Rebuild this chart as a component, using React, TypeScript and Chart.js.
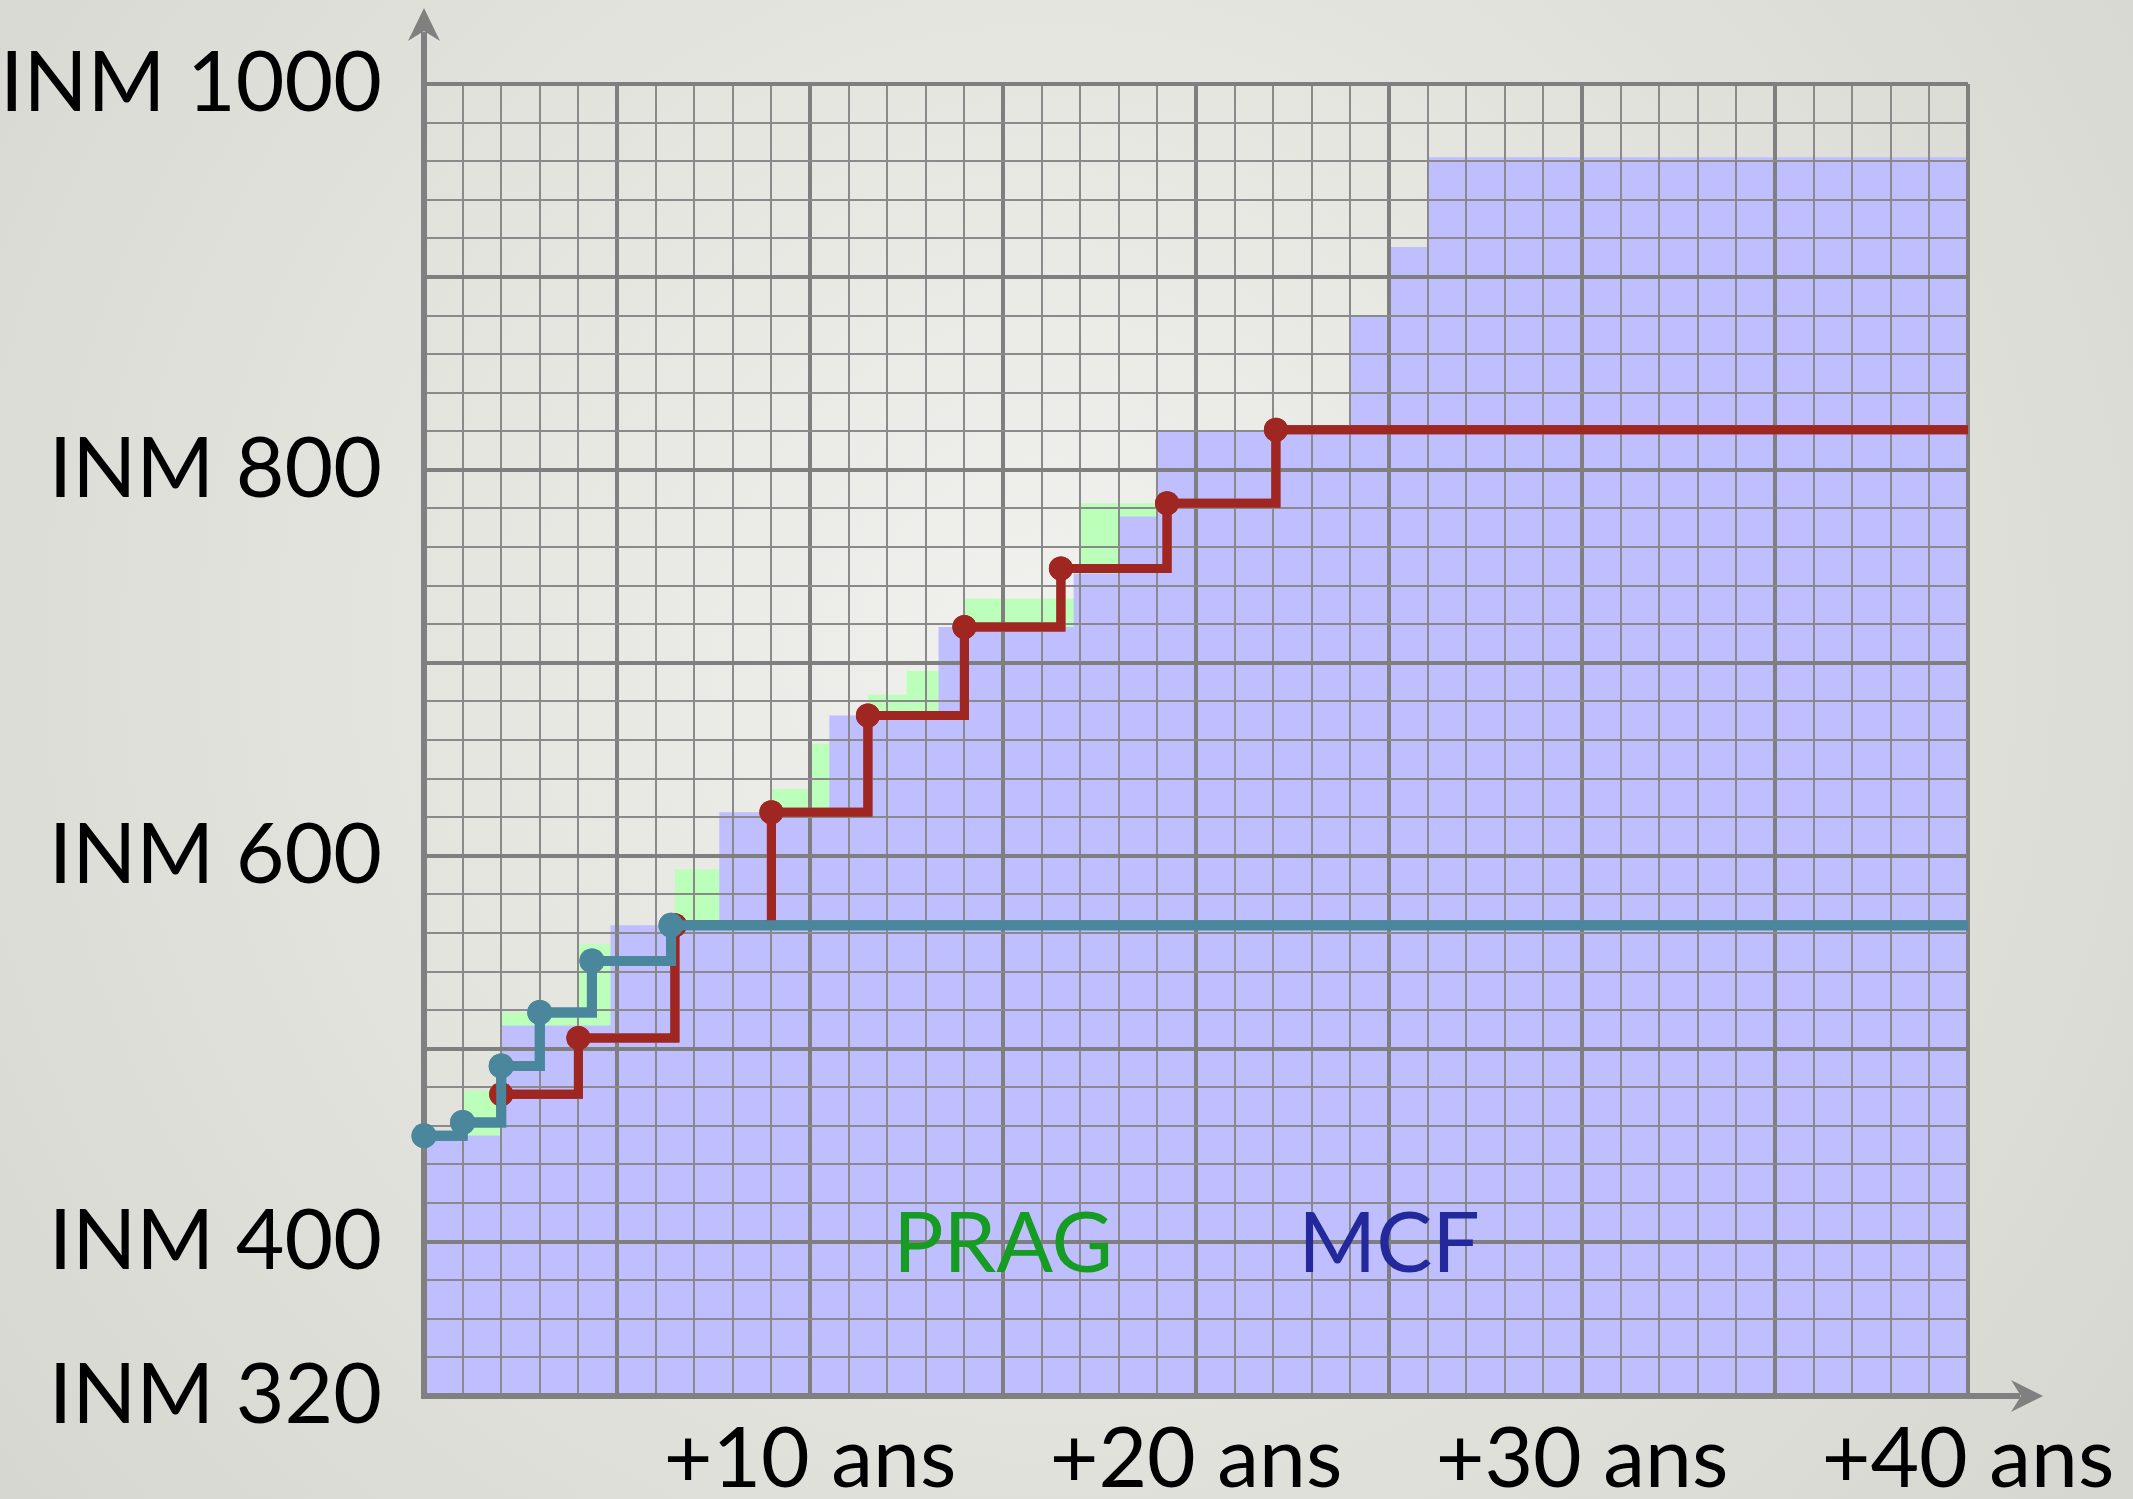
import React, { useEffect, useRef } from 'react';
import { Chart, registerables } from 'chart.js';

Chart.register(...registerables);

const W = 2133;
const H = 1499;

// MCF (blue area) step levels
const mcfX = [0, 2, 4.83, 7.65, 10.5, 13.33, 16.83, 18, 19, 24, 25, 26, 40];
const mcfY = [455, 512, 564, 622.5, 672.7, 718.6, 746.3, 775.8, 820.4, 880, 915.5, 962, 962];

// PRAG (green area) step levels
const pragX = [0, 1, 2, 4, 6.5, 9, 10, 11.5, 12.5, 14, 17, 19];
const pragY = [455, 478.2, 518.8, 554.2, 593, 634.6, 658, 683.6, 695.8, 733.3, 782.7, 782.7];

// red career line
const redX = [2, 4, 6.5, 9, 11.5, 14, 16.5, 19.25, 22.07, 40];
const redY = [476.4, 505.5, 564, 622.5, 672.7, 718.6, 748.9, 782.7, 820.8, 820.8];

// teal career line
const tealX = [0, 1, 2, 3, 4.35, 6.4, 40];
const tealY = [454.9, 461.8, 491.1, 518.8, 545.5, 564, 564];

// axis ticks
const yLabeled = [320, 400, 600, 800, 1000];
const xLabeled = [10, 20, 30, 40];

// annotations
const annText = ['PRAG', 'MCF'];
const annX = [15, 25];
const annY = [400, 400];
const annColor = ['#169c22', '#23289b'];

const FONT = 'Lato, "Open Sans", "DejaVu Sans", sans-serif';
const FS = 84;

const toPts = (xs: number[], ys: number[]) => xs.map((x, i) => ({ x, y: ys[i] }));

export default function App() {
  const ref = useRef<HTMLCanvasElement | null>(null);

  useEffect(() => {
    const canvas = ref.current;
    if (!canvas) return;

    const xTicks: number[] = [];
    for (let v = 0; v <= 40; v += 1) xTicks.push(v);
    const yTicks: number[] = [];
    for (let v = 320; v <= 1000; v += 20) yTicks.push(v);

    const bgPlugin = {
      id: 'bgPaper',
      beforeDraw(chart: any) {
        const ctx = chart.ctx;
        ctx.save();
        const g = ctx.createRadialGradient(1050, 650, 50, 1050, 650, 1450);
        g.addColorStop(0, '#f0f0ec');
        g.addColorStop(1, '#d5d5cf');
        ctx.fillStyle = g;
        ctx.fillRect(0, 0, W, H);
        ctx.restore();
      },
    };

    const overlayPlugin = {
      id: 'overlay',
      afterDraw(chart: any) {
        const { ctx, chartArea: ca, scales } = chart;
        ctx.save();
        // axes with arrows
        ctx.strokeStyle = '#808080';
        ctx.fillStyle = '#808080';
        ctx.lineWidth = 6;
        ctx.lineCap = 'butt';
        ctx.beginPath();
        ctx.moveTo(ca.left, ca.bottom + 3);
        ctx.lineTo(ca.left, 32);
        ctx.moveTo(ca.left - 3, ca.bottom);
        ctx.lineTo(2020, ca.bottom);
        ctx.stroke();
        ctx.beginPath();
        ctx.moveTo(ca.left, 8);
        ctx.lineTo(ca.left + 16, 41);
        ctx.lineTo(ca.left, 31);
        ctx.lineTo(ca.left - 16, 41);
        ctx.closePath();
        ctx.fill();
        ctx.beginPath();
        ctx.moveTo(2043, ca.bottom);
        ctx.lineTo(2011, ca.bottom - 16);
        ctx.lineTo(2021, ca.bottom);
        ctx.lineTo(2011, ca.bottom + 16);
        ctx.closePath();
        ctx.fill();

        // annotations
        ctx.font = `${FS}px ${FONT}`;
        ctx.textAlign = 'center';
        ctx.textBaseline = 'alphabetic';
        annText.forEach((t, i) => {
          ctx.fillStyle = annColor[i];
          const px = scales.x.getPixelForValue(annX[i]);
          const py = scales.y.getPixelForValue(annY[i]);
          ctx.fillText(t, px, py + 30);
        });
        ctx.restore();

        // redraw career lines over the grid
        [1, 0].forEach((i) => {
          const meta = chart.getDatasetMeta(i);
          if (meta && meta.controller) meta.controller.draw();
        });
      },
    };

    const lastZero = (n: number, r: number) => (c: any) => (c.dataIndex === n - 1 ? 0 : r);

    const chart = new Chart(canvas, {
      type: 'line',
      data: {
        datasets: [
          {
            label: 'teal',
            data: toPts(tealX, tealY),
            order: 0,
            borderColor: '#4a879d',
            backgroundColor: '#4a879d',
            borderWidth: 10,
            stepped: true,
            fill: false,
            clip: false as any,
            borderJoinStyle: 'miter',
            borderCapStyle: 'butt',
            pointRadius: lastZero(tealX.length, 12.5),
            pointBackgroundColor: '#4a879d',
            pointBorderWidth: 0,
            pointHoverRadius: 0,
          },
          {
            label: 'red',
            data: toPts(redX, redY),
            order: 1,
            borderColor: '#9f2621',
            backgroundColor: '#9f2621',
            borderWidth: 9,
            stepped: true,
            fill: false,
            clip: false as any,
            borderJoinStyle: 'miter',
            borderCapStyle: 'butt',
            pointRadius: lastZero(redX.length, 12),
            pointBackgroundColor: '#9f2621',
            pointBorderWidth: 0,
            pointHoverRadius: 0,
          },
          {
            label: 'MCF',
            data: toPts(mcfX, mcfY),
            order: 2,
            borderColor: 'rgba(0,0,0,0)',
            borderWidth: 0,
            backgroundColor: '#bfbfff',
            stepped: true,
            fill: 'start',
            pointRadius: 0,
            pointHoverRadius: 0,
          },
          {
            label: 'PRAG',
            data: toPts(pragX, pragY),
            order: 3,
            borderColor: 'rgba(0,0,0,0)',
            borderWidth: 0,
            backgroundColor: '#bbffbb',
            stepped: true,
            fill: 'start',
            pointRadius: 0,
            pointHoverRadius: 0,
          },
        ] as any,
      },
      plugins: [bgPlugin, overlayPlugin],
      options: {
        responsive: false,
        animation: false,
        devicePixelRatio: 1,
        events: [],
        layout: { padding: { left: 0, right: W - 1968, top: 84, bottom: 0 } },
        plugins: {
          legend: { display: false },
          tooltip: { enabled: false },
          filler: { propagate: false },
        },
        scales: {
          x: {
            type: 'linear',
            min: 0,
            max: 40,
            afterBuildTicks: (s: any) => {
              s.ticks = xTicks.map((v) => ({ value: v }));
            },
            afterFit: (s: any) => {
              s.height = H - 1396;
              s.paddingLeft = 0;
              s.paddingRight = 0;
              s.paddingTop = 0;
              s.paddingBottom = 0;
            },
            grid: {
              z: 1,
              drawTicks: false,
              color: (c: any) => (c.tick && c.tick.value % 5 === 0 ? '#7f7f7f' : '#8a8a8a'),
              lineWidth: (c: any) => (c.tick && c.tick.value % 5 === 0 ? 4 : 2),
            },
            border: { display: false },
            ticks: {
              autoSkip: false,
              maxRotation: 0,
              minRotation: 0,
              padding: 14,
              color: '#000',
              font: { family: FONT, size: FS },
              callback: (v: any) => (xLabeled.includes(Number(v)) ? `+${v} ans` : ''),
            },
          },
          y: {
            type: 'linear',
            min: 320,
            max: 1000,
            afterBuildTicks: (s: any) => {
              s.ticks = yTicks.map((v) => ({ value: v }));
            },
            afterFit: (s: any) => {
              s.width = 424;
              s.paddingLeft = 0;
              s.paddingRight = 0;
              s.paddingTop = 0;
              s.paddingBottom = 0;
            },
            grid: {
              z: 1,
              drawTicks: false,
              color: (c: any) => (c.tick && c.tick.value % 100 === 0 ? '#7f7f7f' : '#8a8a8a'),
              lineWidth: (c: any) => (c.tick && c.tick.value % 100 === 0 ? 4 : 2),
            },
            border: { display: false },
            ticks: {
              autoSkip: false,
              padding: 42,
              color: '#000',
              font: { family: FONT, size: FS },
              callback: (v: any) => (yLabeled.includes(Number(v)) ? `INM ${v}` : ''),
            },
          },
        },
      } as any,
    });

    return () => {
      chart.destroy();
    };
  }, []);

  return (
    <div style={{ position: 'absolute', left: 0, top: 0, width: W, height: H }}>
      <canvas ref={ref} width={W} height={H} style={{ display: 'block', width: W, height: H }} />
    </div>
  );
}
